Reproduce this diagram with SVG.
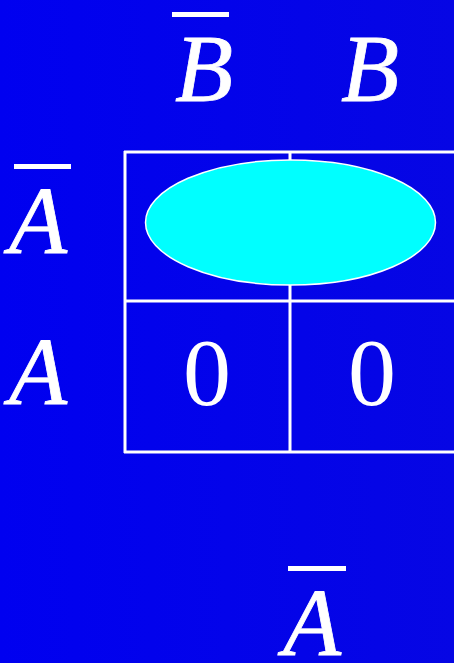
<svg xmlns="http://www.w3.org/2000/svg" width="454" height="663" viewBox="0 0 454 663">
<defs>
<linearGradient id="bg" x1="0" y1="0" x2="1" y2="0">
<stop offset="0" stop-color="#0000F0"/>
<stop offset="1" stop-color="#0606E4"/>
</linearGradient>
</defs>
<style>
.v{font-family:"Liberation Serif","Times New Roman",serif;font-style:italic;font-size:95px;fill:#fff;stroke:#fff;stroke-width:0.8}
.n{font-family:"Liberation Serif","Times New Roman",serif;font-size:96px;fill:#fff;text-anchor:middle}
.bar{fill:#fff}
.grid{stroke:#fff;stroke-width:3;fill:none}
</style>
<rect width="454" height="663" fill="url(#bg)"/>
<g id="grid">
<path class="grid" d="M124 152 H456 M124 301 H456 M124 452 H456 M125 151 V453 M290 151 V453"/>
</g>
<g id="loop">
<ellipse cx="290.5" cy="222.5" rx="145" ry="62.5" fill="#00FFFF" stroke="#fff" stroke-width="1.5"/>
</g>
<g id="label-Bbar">
<rect class="bar" x="172" y="12" width="57" height="5"/>
<text class="v" x="175" y="101">B</text>
</g>
<g id="label-B">
<text class="v" x="341" y="101">B</text>
</g>
<g id="label-Abar">
<rect class="bar" x="14" y="164" width="57" height="5"/>
<text class="v" x="9" y="253">A</text>
</g>
<g id="label-A">
<text class="v" x="9" y="404">A</text>
</g>
<g id="cell-10"><text class="n" x="207" y="405">0</text></g>
<g id="cell-11"><text class="n" x="372" y="405">0</text></g>
<g id="label-Abar-bottom">
<rect class="bar" x="288" y="566" width="58" height="5"/>
<text class="v" x="283" y="655">A</text>
</g>
</svg>
